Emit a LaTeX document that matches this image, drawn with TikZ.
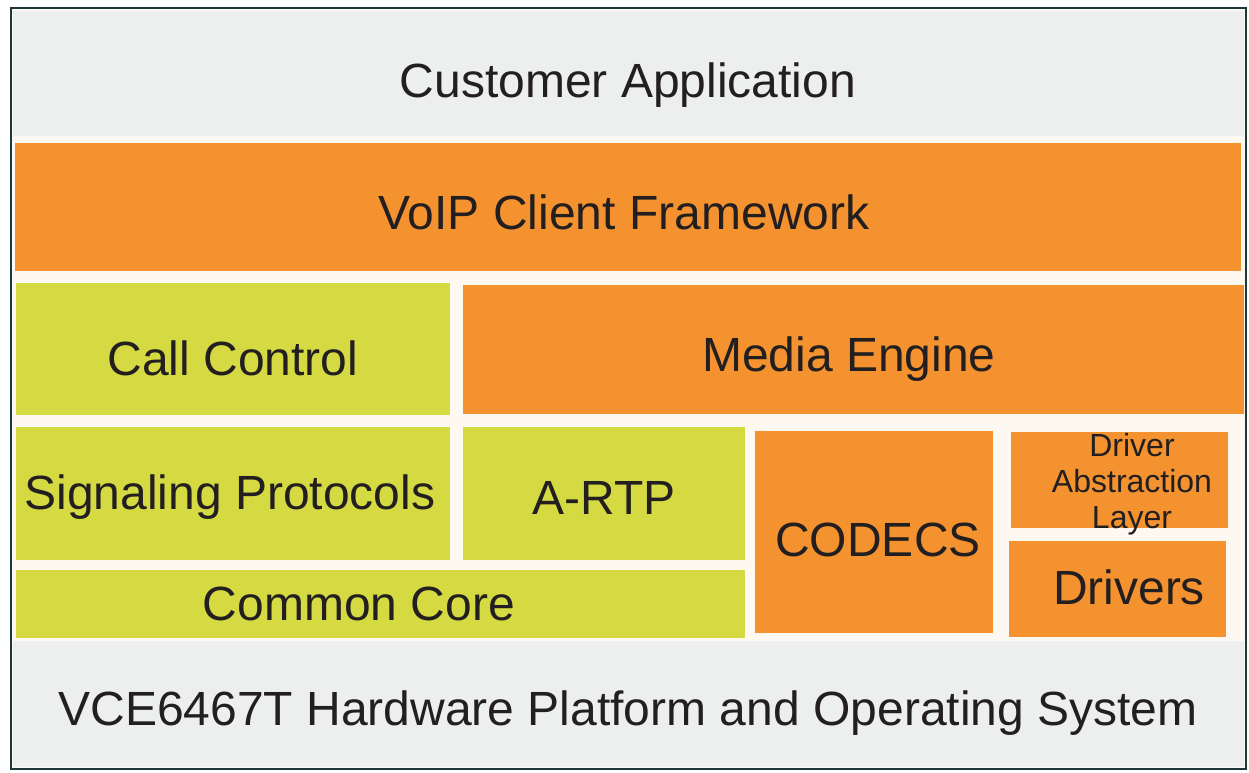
\documentclass[tikz,border=0pt]{standalone}
\usepackage{fontspec}
\setmainfont{Liberation Sans}
\definecolor{stackorange}{HTML}{F3922F}
\definecolor{stackgreen}{HTML}{D5DA42}
\definecolor{stackgray}{HTML}{EDEEEE}
\definecolor{gapcream}{HTML}{FDF8F0}
\definecolor{framedark}{HTML}{1E373D}
\definecolor{labeltext}{HTML}{231F20}
\tikzstyle{layertext} = [inner sep=0pt, anchor=base, text=labeltext, font=\fontsize{48}{57}\selectfont]
\tikzstyle{smalltext} = [inner sep=0pt, text=labeltext, align=center, font=\fontsize{32}{36}\selectfont]
\newcommand{\orng}[2]{\fill[stackorange] #1 rectangle #2;}
\newcommand{\grn}[2]{\fill[stackgreen] #1 rectangle #2;}

\begin{document}
\begin{tikzpicture}[x=1pt, y=-1pt]
					\useasboundingbox (0,0) rectangle (1249,772);
					\fill[gapcream] (11,8) rectangle (1246,769);
					% top and bottom layers
					\fill[stackgray] (13,11) rectangle (1244,136);
					\fill[stackgray] (13,641) rectangle (1244,767);
					% framework and media
					\orng{(15,143)}{(1241,271)}
					\orng{(463,285)}{(1244,414)}
					\orng{(755,431)}{(993,633)}
					\orng{(1011,432)}{(1228,528)}
					\orng{(1009,541)}{(1226,637)}
					% protocol stack
					\grn{(16,283)}{(450,415)}
					\grn{(16,427)}{(450,560)}
					\grn{(463,427)}{(745,560)}
					\grn{(16,570)}{(745,638)}
					\draw[framedark, line width=2.5] (11,8) rectangle (1246,769);

					\node[layertext] (app) at (628,97) {Customer Application};
					\node[layertext] (voip) at (624,229) {VoIP Client Framework};
					\node[layertext] (call) at (233,375) {Call Control};
					\node[layertext] (media) at (849,371) {Media Engine};
					\node[layertext] (sig) at (230,509) {Signaling Protocols};
					\node[layertext] (artp) at (604,514) {A-RTP};
					\node[layertext] (core) at (359,620) {Common Core};
					\node[layertext] (codecs) at (878,556) {CODECS};
					\node[smalltext] (dal) at (1132,484) {Driver\\Abstraction\\Layer};
					\node[layertext] (drv) at (1129,604) {Drivers};
					\node[layertext] (hw) at (628,725) {VCE6467T Hardware Platform and Operating System};
				\end{tikzpicture}
\end{document}
